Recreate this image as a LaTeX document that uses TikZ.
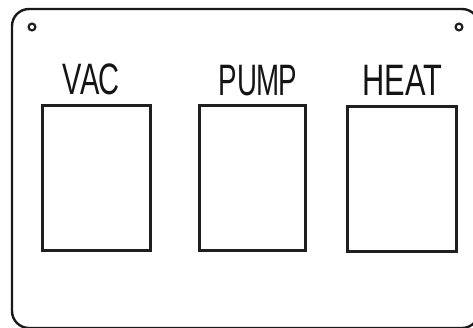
\documentclass[tikz,border=0pt]{standalone}
\usepackage{fontspec}
\setmainfont{Liberation Sans}
\begin{document}
\begin{tikzpicture}[x=1pt,y=-1pt,
  plate/.style={line width=2.4pt,draw=black!90,rounded corners=17pt},
  slot/.style={line width=3pt,draw=black!88},
  hole/.style={line width=2.2pt,draw=black!88},
  label/.style={font=\fontsize{44}{44}\selectfont,text=black!92,inner sep=0pt,anchor=base}]
\useasboundingbox (0,0) rectangle (473,327);
\clip (0,0) rectangle (473,327);
\draw[plate] (12,9) rectangle (479,328);
\draw[hole] (32,27) circle (3.4);
\draw[hole] (459,27) circle (3.4);
\draw[slot] (42,105) rectangle (150,250);
\draw[slot] (199,105) rectangle (305,250);
\draw[slot] (347,106) rectangle (456,251);
\node[label] (vac) at (91,94) {\scalebox{0.66}[1]{V\kern-2ptA\kern-1ptC}};
\node[label] (pump) at (258,95) {\scalebox{0.63}[1]{PU\kern-1ptM\kern-1ptP}};
\node[label] (heat) at (402.5,95) {\scalebox{0.7}[1]{HEAT}};
\end{tikzpicture}
\end{document}
